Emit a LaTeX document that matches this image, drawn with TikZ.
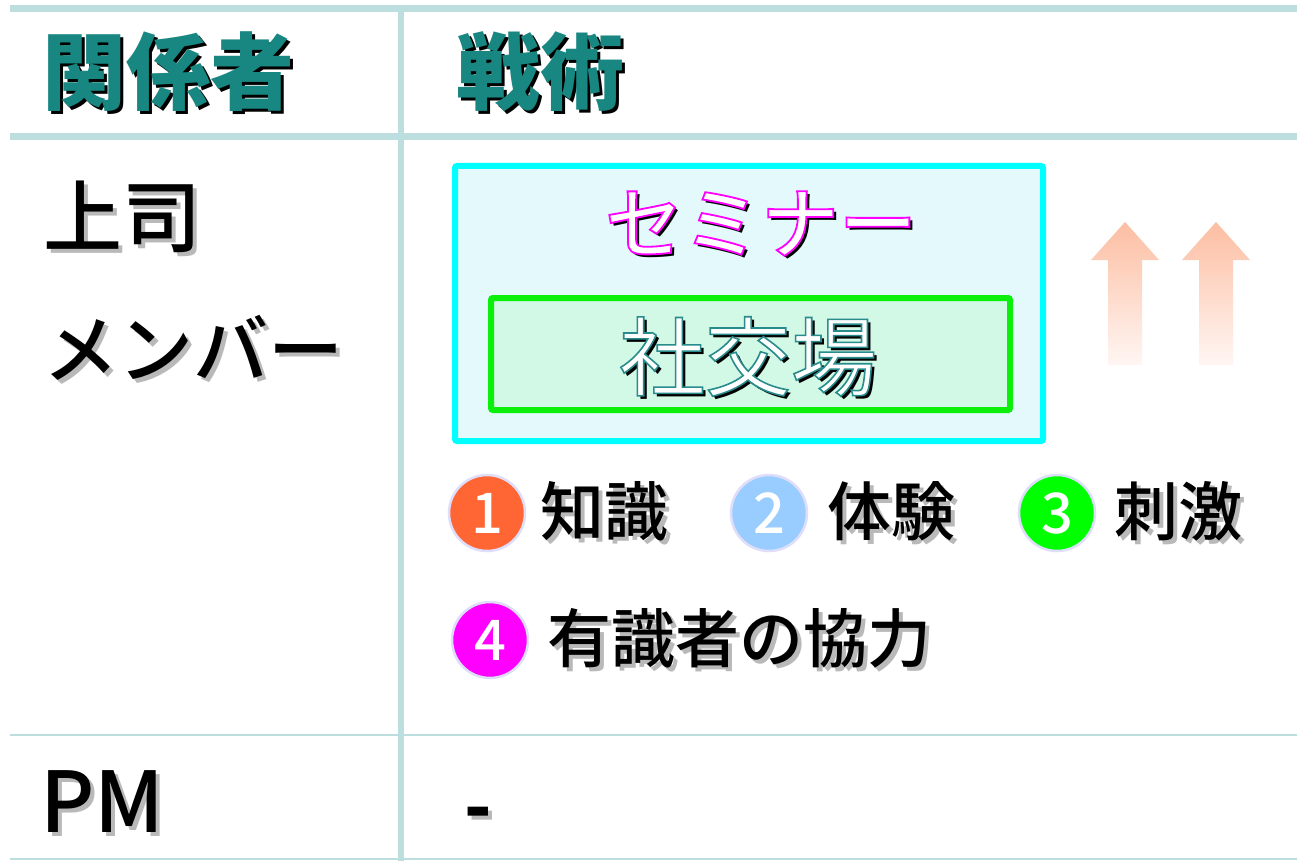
\documentclass[tikz,border=0pt]{standalone}
\usepackage{fontspec}
\setmainfont{Noto Sans CJK JP}
\newfontfamily\medfont{Noto Sans CJK JP Medium}
\usetikzlibrary{shadings}
\definecolor{tline}{RGB}{188,222,222}
\definecolor{hteal}{RGB}{24,135,130}
\definecolor{shgray}{RGB}{185,185,185}
\definecolor{cyanfill}{RGB}{227,249,252}
\definecolor{cyanline}{RGB}{0,255,255}
\definecolor{grfill}{RGB}{210,248,230}
\definecolor{grline}{RGB}{10,240,10}
\definecolor{arrtop}{RGB}{252,190,162}
\definecolor{arrbot}{RGB}{255,246,243}
\definecolor{ring}{RGB}{222,222,250}
\definecolor{c1}{RGB}{255,102,51}
\definecolor{c2}{RGB}{153,204,255}
\definecolor{c3}{RGB}{0,255,0}
\definecolor{c4}{RGB}{255,0,255}
% shadowed text: colour, dx, dy, text
\newcommand\shd[4]{\makebox[0pt][l]{\kern#2\raisebox{-#3}{\textcolor{#1}{#4}}}#4}
% outlined white text with black shadow: stroke rgb, width, text
\newcommand\oshd[3]{\makebox[0pt][l]{\kern3pt\raisebox{-3pt}{\textcolor{black}{#3}}}{\color{white}\special{pdf:literal direct #1 RG #2 w 2 Tr}#3\special{pdf:literal direct 0 Tr 1 w}}}
\begin{document}
\begin{tikzpicture}[x=1pt,y=-1pt,
  rule/.style={draw=tline,line cap=butt},
  hdr/.style={inner sep=0pt,anchor=west,text=hteal,font=\fontsize{84}{90}\selectfont\bfseries},
  body/.style={inner sep=0pt,anchor=west,text=black,font=\fontsize{80}{86}\selectfont\medfont},
  item/.style={inner sep=0pt,anchor=west,text=black,font=\fontsize{64}{70}\selectfont\medfont},
  num/.style={circle,draw=ring,line width=2.5pt,minimum size=76pt,inner sep=0pt,text=white,font=\fontsize{56}{60}\selectfont\medfont},
  outerbox/.style={draw=cyanline,fill=cyanfill,line width=6pt,rounded corners=2pt},
  innerbox/.style={draw=grline,fill=grfill,line width=6pt,rounded corners=2pt}]
\useasboundingbox (0,0) rectangle (1297,861);
\fill[white] (0,0) rectangle (1297,861);
% table rules
\coordinate (tl) at (10,9);   \coordinate (tr) at (1297,9);
\coordinate (hl) at (10,137); \coordinate (hr) at (1297,137);
\coordinate (ml) at (10,735); \coordinate (mr) at (1297,735);
\coordinate (bl) at (10,859); \coordinate (br) at (1297,859);
\coordinate (vt) at (401,9);  \coordinate (vb) at (401,861);
\draw[rule,line width=7pt] (tl) -- (tr);
\draw[rule,line width=7pt] (hl) -- (hr);
\draw[rule,line width=1.8pt] (ml) -- (mr);
\draw[rule,line width=1.8pt] (bl) -- (br);
\draw[rule,line width=6pt] (vt) -- (vb);
% headers
\node[hdr] (h1) at (42,73) {\shd{black}{3pt}{3pt}{関係者}};
\node[hdr] (h2) at (456,73) {\shd{black}{3pt}{3pt}{戦術}};
% left column
\node[body,font=\fontsize{79}{84}\selectfont\medfont] (boss) at (43,219) {\shd{shgray}{4pt}{4pt}{上司}};
\node[body,font=\fontsize{75}{80}\selectfont\medfont] (mem) at (43,350) {\shd{shgray}{4pt}{4pt}{メンバー}};
\node[body,font=\fontsize{84}{90}\selectfont\medfont] (pm) at (40,804) {\shd{shgray}{4pt}{4pt}{PM}};
\node[inner sep=0pt,anchor=base west,font=\fontsize{72}{78}\selectfont\bfseries] (dash) at (464,832) {\shd{shgray}{4pt}{4pt}{-}};
% boxes
\draw[outerbox] (455,166) rectangle (1043,441);
\node[inner sep=0pt,font=\fontsize{78}{84}\selectfont\medfont] (sem) at (761,225) {\oshd{1 0 1}{1.8}{セミナー}};
\draw[innerbox] (491,298) rectangle (1010,410);
\node[inner sep=0pt,font=\fontsize{86}{92}\selectfont] (soc) at (748,358) {\oshd{0.16 0.55 0.55}{1.6}{社交場}};
% rising arrows
\shade[top color=arrtop,bottom color=arrbot]
  (1108,365) -- (1108,260) -- (1091,260) -- (1125,222) -- (1159,260) -- (1142,260) -- (1142,365) -- cycle;
\shade[top color=arrtop,bottom color=arrbot]
  (1199,365) -- (1199,260) -- (1182,260) -- (1216,222) -- (1250,260) -- (1233,260) -- (1233,365) -- cycle;
% numbered items
\node[num,fill=c1] (n1) at (487,513) {1};
\node[item] (t1) at (540,513) {\shd{shgray}{4pt}{4pt}{知識}};
\node[num,fill=c2] (n2) at (769,513) {2};
\node[item] (t2) at (827,513) {\shd{shgray}{4pt}{4pt}{体験}};
\node[num,fill=c3] (n3) at (1057,513) {3};
\node[item] (t3) at (1114,513) {\shd{shgray}{4pt}{4pt}{刺激}};
\node[num,fill=c4] (n4) at (490,640) {4};
\node[item] (t4) at (547,640) {\shd{shgray}{4pt}{4pt}{有識者の協力}};
\end{tikzpicture}
\end{document}
